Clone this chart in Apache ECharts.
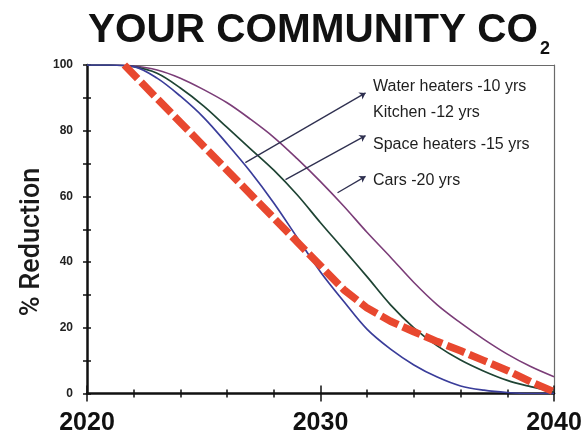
<!DOCTYPE html>
<html>
<head>
<meta charset="utf-8">
<script src="https://cdn.jsdelivr.net/npm/echarts@6/dist/echarts.min.js"></script>
<style>
  html, body { margin: 0; padding: 0; background: #ffffff; }
  #chart { width: 585px; height: 436px; }
</style>
</head>
<body>
<div id="chart"></div>
<script>
// Years on the horizontal axis (one point per year for the turnover curves)
const years = [2020, 2021, 2022, 2023, 2024, 2025, 2026, 2027, 2028, 2029, 2030,
               2031, 2032, 2033, 2034, 2035, 2036, 2037, 2038, 2039, 2040];

// Share of CO2 still emitted (%) as equipment is replaced at end of life
const waterKitchen  = [100, 100, 99.5, 96, 90.5, 84, 76, 67.5, 58, 47.5, 37,
                       28, 19.5, 13.5, 8.7, 5, 2.3, 1, 0.3, 0, 0];
const spaceHeaters  = [100, 100, 99.5, 97.5, 93, 87.5, 81, 74.5, 68, 60.5, 52,
                       43.8, 35.5, 27, 20, 14.5, 10.2, 6.8, 4, 2.1, 0.5];
const cars          = [100, 100, 99.7, 98.5, 96, 92.5, 88.5, 83.5, 78, 71.5, 64.5,
                       57, 49, 41.5, 33.8, 27, 21.5, 16.5, 12, 8.2, 5.1];

// Target reduction path (dashed red)
const targetYears  = [2021.6, 2031, 2032, 2033, 2034, 2035, 2036, 2037, 2038, 2039, 2040];
const targetValues = [100, 31.6, 26, 22, 18.8, 15.8, 13, 10, 7, 3.6, 0.5];

// Axis tick labels
const xTickLabels = ['2020', '2030', '2040'];
const yTickLabels = ['0', '20', '40', '60', '80', '100'];

// Annotation pointers: [year, %] on a curve -> [year, %] next to its caption
const pointerFrom = [[2026.78, 70.3], [2028.5, 65.1], [2030.73, 61.1]];
const pointerTo   = [[2031.93, 91.5], [2031.93, 78.5], [2031.93, 66.1]];

// Captions beside the pointers
const captions = ['Water heaters -10 yrs', 'Kitchen -12 yrs', 'Space heaters -15 yrs', 'Cars -20 yrs'];

const pairs = (xs, ys) => xs.map((x, i) => [x, ys[i]]);

const chart = echarts.init(document.getElementById('chart'), null, { renderer: 'canvas' });

const AXIS = '#111111';
const FRAME = '#6a6a6a';
const CAPTION_FONT = '16px "Liberation Sans", Arial, sans-serif';

// Extra x axes that only draw tick marks, so every tick crosses the axis line
const tickOnlyX = (interval, inside, length) => ({
  type: 'value', min: 2020, max: 2040, interval, position: 'bottom',
  axisLine: { show: false, onZero: false },
  axisTick: { show: true, inside, length, lineStyle: { color: AXIS, width: 1.5 } },
  axisLabel: { show: false }, splitLine: { show: false }
});

const option = {
  animation: false,
  backgroundColor: '#ffffff',
  grid: { left: 87, right: 31, top: 65, bottom: 42.5, outerBoundsMode: 'none' },
  xAxis: [
    {
      type: 'value', min: 2020, max: 2040, interval: 2, position: 'bottom',
      axisLine: { show: true, onZero: false, lineStyle: { color: AXIS, width: 2.5 } },
      axisTick: { show: true, length: 4, lineStyle: { color: AXIS, width: 1.5 } },
      axisLabel: {
        show: true, margin: 17, color: '#111', fontSize: 25, fontWeight: 'bold',
        fontFamily: '"Liberation Sans", Arial, sans-serif',
        formatter: v => (xTickLabels.indexOf(String(v)) >= 0 ? String(v) : '')
      },
      splitLine: { show: false }
    },
    tickOnlyX(2, true, 4),
    tickOnlyX(10, true, 8),
    tickOnlyX(10, false, 8),
    {
      type: 'value', min: 2020, max: 2040, position: 'top',
      axisLine: { show: true, onZero: false, lineStyle: { color: FRAME, width: 1.2 } },
      axisTick: { show: false }, axisLabel: { show: false }, splitLine: { show: false }
    }
  ],
  yAxis: [
    {
      type: 'value', min: 0, max: 100, interval: 10, position: 'left',
      axisLine: { show: true, onZero: false, lineStyle: { color: AXIS, width: 2.5 } },
      axisTick: { show: true, length: 4, lineStyle: { color: AXIS, width: 1.5 } },
      axisLabel: {
        show: true, margin: 14, color: '#222', fontSize: 12, fontWeight: 'bold',
        fontFamily: '"Liberation Sans", Arial, sans-serif',
        formatter: v => (yTickLabels.indexOf(String(v)) >= 0 ? String(v) : '')
      },
      splitLine: { show: false }
    },
    {
      type: 'value', min: 0, max: 100, interval: 10, position: 'left',
      axisLine: { show: false, onZero: false },
      axisTick: { show: true, inside: true, length: 4, lineStyle: { color: AXIS, width: 1.5 } },
      axisLabel: { show: false }, splitLine: { show: false }
    },
    {
      type: 'value', min: 0, max: 100, position: 'right',
      axisLine: { show: true, onZero: false, lineStyle: { color: FRAME, width: 1.2 } },
      axisTick: { show: false }, axisLabel: { show: false }, splitLine: { show: false }
    }
  ],
  series: [
    {
      name: 'Cars', type: 'line', data: pairs(years, cars),
      smooth: 0.35, symbol: 'none', z: 3,
      lineStyle: { color: '#7b3d78', width: 1.6 }
    },
    {
      name: 'Space heaters', type: 'line', data: pairs(years, spaceHeaters),
      smooth: 0.35, symbol: 'none', z: 3,
      lineStyle: { color: '#1f4434', width: 1.7 }
    },
    {
      name: 'Water heaters / Kitchen', type: 'line', data: pairs(years, waterKitchen),
      smooth: 0.35, symbol: 'none', z: 3,
      lineStyle: { color: '#3a3d9a', width: 1.7 },
      markLine: {
        silent: true, animation: false,
        symbol: ['none', 'arrow'], symbolSize: 6,
        lineStyle: { color: '#2f3050', width: 1.3, type: 'solid' },
        label: { show: false },
        data: pointerFrom.map((p, i) => [{ coord: p }, { coord: pointerTo[i] }])
      }
    },
    {
      name: 'Target', type: 'line', data: pairs(targetYears, targetValues),
      symbol: 'none', z: 5,
      lineStyle: { color: '#e8482f', width: 7.5, type: [19, 5], cap: 'butt' }
    }
  ],
  graphic: [
    {
      type: 'text', x: 88, y: 31, z: 10,
      style: {
        text: 'YOUR COMMUNITY CO', fill: '#111',
        font: 'bold 40.5px "Liberation Sans", Arial, sans-serif',
        align: 'left', verticalAlign: 'middle'
      }
    },
    {
      type: 'text', x: 540, y: 49, z: 10,
      style: {
        text: '2', fill: '#111',
        font: 'bold 18px "Liberation Sans", Arial, sans-serif',
        align: 'left', verticalAlign: 'middle'
      }
    },
    {
      type: 'text', x: 32, y: 242, rotation: Math.PI / 2, z: 10,
      style: {
        text: '% Reduction', fill: '#1a1a1a',
        font: '500 27px Roboto, "Liberation Sans", sans-serif',
        align: 'center', verticalAlign: 'middle'
      }
    },
    {
      type: 'text', x: 373, y: 87, z: 10,
      style: { text: captions[0], fill: '#1e1e1e', font: CAPTION_FONT, align: 'left', verticalAlign: 'middle' }
    },
    {
      type: 'text', x: 373, y: 113, z: 10,
      style: { text: captions[1], fill: '#1e1e1e', font: CAPTION_FONT, align: 'left', verticalAlign: 'middle' }
    },
    {
      type: 'text', x: 373, y: 145, z: 10,
      style: { text: captions[2], fill: '#1e1e1e', font: CAPTION_FONT, align: 'left', verticalAlign: 'middle' }
    },
    {
      type: 'text', x: 373, y: 181, z: 10,
      style: { text: captions[3], fill: '#1e1e1e', font: CAPTION_FONT, align: 'left', verticalAlign: 'middle' }
    }
  ]
};

chart.setOption(option);
</script>
</body>
</html>
